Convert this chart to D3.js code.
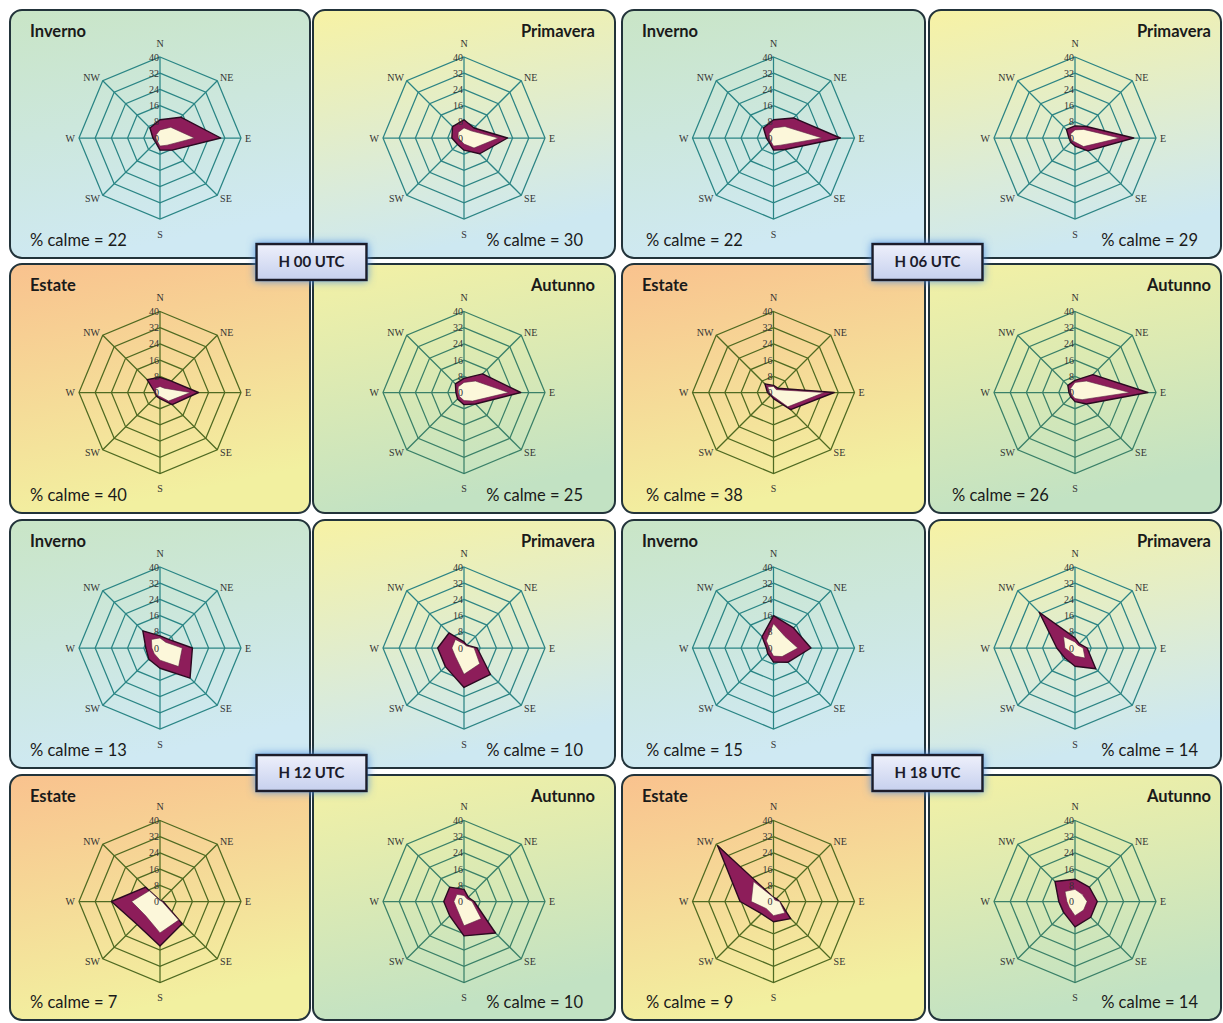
<!DOCTYPE html>
<html>
<head>
<meta charset="utf-8">
<script src="https://cdn.jsdelivr.net/npm/d3@7"></script>
<style>
  body { margin: 0; background: #fff; }
  svg text { font-family: Lato, 'Open Sans', sans-serif; }
</style>
</head>
<body>
<svg id="chart" width="1223" height="1023"></svg>
<script>
// wind roses, % frequency by direction, 4 hours x 4 seasons

const directions = ['N', 'NE', 'E', 'SE', 'S', 'SW', 'W', 'NW'];
const ringTicks = [0, 8, 16, 24, 32, 40];
const seasons = ['Inverno', 'Primavera', 'Estate', 'Autunno'];
const hours = ['H 00 UTC', 'H 06 UTC', 'H 12 UTC', 'H 18 UTC'];

// % calme, per hour, per season
const calme00 = [22, 30, 40, 25];
const calme06 = [22, 29, 38, 26];
const calme12 = [13, 10, 7, 10];
const calme18 = [15, 14, 9, 14];

// outer polygon (all winds) and inner polygon, per season, N..NW
const tot00 = [
  [9, 14.5, 30, 8.5, 6, 3, 3.5, 7],
  [9, 7, 21.5, 11, 6, 4.5, 6, 8],
  [7.5, 8, 19, 8.5, 3, 2.5, 2.5, 9],
  [7, 13, 28, 8, 6, 4.5, 4, 6]
];
const inn00 = [
  [4, 7.5, 17, 5, 4, 2, 2, 2.5],
  [5, 5, 17, 7, 3, 2, 3, 4],
  [3, 3, 15, 6, 2, 2, 2, 3],
  [5, 8, 22, 6, 4, 3, 3, 4]
];
const tot06 = [
  [9, 14, 33, 8, 6, 3, 3.5, 7],
  [6, 8, 29, 9, 4, 3, 3, 6],
  [3.5, 3, 30, 12, 3, 2, 3, 6],
  [6, 12.5, 36, 8, 4.5, 3, 3, 5]
];
const inn06 = [
  [5, 8, 24, 5, 4, 2, 2, 3],
  [4, 6, 22, 6, 2, 2, 2, 3],
  [3, 2, 25, 10, 2, 1.5, 2, 4],
  [5, 8, 27, 5, 3, 2, 2, 3]
];
const tot12 = [
  [6, 6, 16, 21, 10, 7.8, 7, 12],
  [3, 2, 6.5, 18.5, 19.5, 13, 13, 10.5],
  [0.5, 0.5, 1.5, 15.5, 22, 16, 24, 10],
  [6, 3, 5, 22, 17, 10, 10, 10]
];
const inn12 = [
  [5, 4, 11, 13, 6, 4, 4, 6],
  [2, 1.5, 5, 11, 13, 6, 6, 6],
  [0.5, 0.5, 1, 13, 15.5, 10, 14, 7.5],
  [3, 2, 4, 12, 12, 5, 5, 5]
];
const tot18 = [
  [16, 14, 18.5, 10, 7, 4, 3.5, 8],
  [5, 3, 6, 14.5, 9, 7, 9, 25],
  [2, 2, 3, 12, 10, 8.5, 16.5, 39],
  [11, 10, 11, 11, 12.5, 7.8, 8, 14]
];
const inn18 = [
  [12, 8, 12, 6, 4, 2, 2, 5],
  [3, 2, 4, 7, 4, 3, 5, 8],
  [2, 1, 3, 8, 7, 5, 11, 14],
  [6, 5, 6, 6, 7, 4, 4, 7]
];

const calmeAll = [calme00, calme06, calme12, calme18];
const totAll = [tot00, tot06, tot12, tot18];
const innAll = [inn00, inn06, inn12, inn18];

//////////////////////////////
// layout
const colX = [10, 313, 622, 929];
const colW = [300, 302, 303, 292];
const rowY = [10, 264, 520, 775];
const rowH = [248, 249, 248, 245];
const titlePad = [20, 20, 20, 10];
const calmePad = [20, 32, 24, 23];
const R = 81;

const bgColors = {
  'Inverno':   ['#c9e5c6', '#cfe9f3'],
  'Primavera': ['#f7f2a4', '#cde8f1'],
  'Estate':    ['#f9c28e', '#f2f0a0'],
  'Autunno':   ['#f4f1a4', '#c2e2c3']
};
const gridColors = {
  'Inverno': '#2a8585',
  'Primavera': '#2c8484',
  'Estate': '#4f6a22',
  'Autunno': '#3a8068'
};

const svg = d3.select('#chart');
const defs = svg.append('defs');

seasons.forEach((s) => {
  const g = defs.append('linearGradient')
    .attr('id', 'bg-' + s)
    .attr('x1', 0).attr('y1', 0).attr('x2', 0.25).attr('y2', 1);
  g.append('stop').attr('offset', '0%').attr('stop-color', bgColors[s][0]);
  g.append('stop').attr('offset', '100%').attr('stop-color', bgColors[s][1]);
});

const boxGrad = defs.append('linearGradient')
  .attr('id', 'boxGrad').attr('x1', 0).attr('y1', 0).attr('x2', 0).attr('y2', 1);
boxGrad.append('stop').attr('offset', '0%').attr('stop-color', '#eef0fb');
boxGrad.append('stop').attr('offset', '100%').attr('stop-color', '#c6d0ee');

const glow = defs.append('filter').attr('id', 'glow')
  .attr('x', '-30%').attr('y', '-60%').attr('width', '160%').attr('height', '220%');
glow.append('feGaussianBlur').attr('in', 'SourceAlpha').attr('stdDeviation', 4).attr('result', 'blur');
glow.append('feFlood').attr('flood-color', '#4f8fe0').attr('flood-opacity', 0.9);
glow.append('feComposite').attr('in2', 'blur').attr('operator', 'in').attr('result', 'g');
const merge = glow.append('feMerge');
merge.append('feMergeNode').attr('in', 'g');
merge.append('feMergeNode').attr('in', 'SourceGraphic');

const rScale = d3.scaleLinear().domain([0, 40]).range([0, R]);
const angle = d3.scaleLinear().domain([0, directions.length]).range([0, 2 * Math.PI]);

const radial = d3.lineRadial()
  .angle((d, i) => angle(i))
  .radius((d) => rScale(d))
  .curve(d3.curveLinearClosed);

function drawPanel(h, s) {
  const season = seasons[s];
  const col = (h % 2) * 2 + (s % 2);
  const row = Math.floor(h / 2) * 2 + Math.floor(s / 2);
  const x = colX[col], y = rowY[row], w = colW[col], ht = rowH[row];
  const isRight = s % 2 === 1;

  const g = svg.append('g').attr('class', 'panel');
  g.append('rect')
    .attr('x', x).attr('y', y).attr('width', w).attr('height', ht)
    .attr('rx', 12)
    .attr('fill', 'url(#bg-' + season + ')')
    .attr('stroke', '#22333a').attr('stroke-width', 2);

  // title
  g.append('text')
    .attr('x', isRight ? x + w - titlePad[col] : x + titlePad[col])
    .attr('y', y + 27)
    .attr('text-anchor', isRight ? 'end' : 'start')
    .style('font-weight', 'bold').style('font-size', '16.5px')
    .attr('fill', '#1a1a1a')
    .text(season);

  // calme label (Autunno at 06 sits on the left)
  const calmeLeft = !isRight || (h === 1 && s === 3);
  g.append('text')
    .attr('x', calmeLeft ? x + calmePad[col] : x + w - calmePad[col])
    .attr('y', y + ht - 12)
    .attr('text-anchor', calmeLeft ? 'start' : 'end')
    .style('font-size', '16.5px')
    .attr('fill', '#1a1a1a')
    .text('% calme = ' + calmeAll[h][s]);

  // radar
  const cx = x + w / 2, cy = y + ht / 2 + 4;
  const gc = gridColors[season];
  const rg = g.append('g').attr('transform', `translate(${cx},${cy})`);

  ringTicks.slice(1).forEach((t) => {
    rg.append('path')
      .attr('d', radial(directions.map(() => t)))
      .attr('fill', 'none').attr('stroke', gc).attr('stroke-width', 1.25);
  });
  directions.forEach((d, i) => {
    const a = angle(i);
    rg.append('line')
      .attr('x1', 0).attr('y1', 0)
      .attr('x2', Math.sin(a) * rScale(40)).attr('y2', -Math.cos(a) * rScale(40))
      .attr('stroke', gc).attr('stroke-width', 1.25);
  });

  // series
  rg.append('path')
    .attr('d', radial(totAll[h][s]))
    .attr('fill', '#8d1d5a').attr('stroke', '#2a0a20').attr('stroke-width', 1.4)
    .attr('stroke-linejoin', 'round');
  rg.append('path')
    .attr('d', radial(innAll[h][s]))
    .attr('fill', '#fcf7da').attr('stroke', '#5a2342').attr('stroke-width', 0.6);

  // tick labels
  ringTicks.forEach((t) => {
    rg.append('text')
      .attr('x', -1).attr('y', -rScale(t))
      .attr('dy', '0.35em')
      .attr('text-anchor', 'end')
      .style('font-family', "'Liberation Serif', 'DejaVu Serif', serif")
      .style('font-size', '10px')
      .attr('fill', '#333')
      .text(t);
  });

  // direction labels
  directions.forEach((d, i) => {
    const a = angle(i);
    const sx = Math.sin(a), sy = -Math.cos(a);
    const rr = rScale(40) + (Math.abs(sx) < 0.01 ? 12 : 4);
    const px = sx * rr, py = sy * rr + (sy < -0.9 ? -2 : sy > 0.9 ? 3 : 0);
    rg.append('text')
      .attr('x', px).attr('y', py)
      .attr('dy', '0.35em')
      .attr('text-anchor', sx > 0.01 ? 'start' : sx < -0.01 ? 'end' : 'middle')
      .style('font-family', "'Liberation Serif', 'DejaVu Serif', serif")
      .style('font-size', '10px')
      .attr('fill', '#333')
      .text(d);
  });
}

hours.forEach((hr, h) => {
  seasons.forEach((s, si) => drawPanel(h, si));
});

// hour boxes, on the seam between the two rows of each group
hours.forEach((hr, h) => {
  const col = (h % 2) * 2;
  const row = Math.floor(h / 2) * 2;
  const bx = colX[col + 1] - 1.5;
  const by = rowY[row + 1] - 2;
  const bw = 110, bh = 36;
  const b = svg.append('g').attr('class', 'hour');
  b.append('rect')
    .attr('x', bx - bw / 2).attr('y', by - bh / 2)
    .attr('width', bw).attr('height', bh)
    .attr('fill', 'url(#boxGrad)')
    .attr('stroke', '#1b1f2a').attr('stroke-width', 2.5)
    .attr('filter', 'url(#glow)');
  b.append('text')
    .attr('x', bx).attr('y', by)
    .attr('dy', '0.36em')
    .attr('text-anchor', 'middle')
    .style('font-weight', 'bold').style('font-size', '15px')
    .attr('fill', '#1b1b2a')
    .text(hr);
});
</script>
</body>
</html>
